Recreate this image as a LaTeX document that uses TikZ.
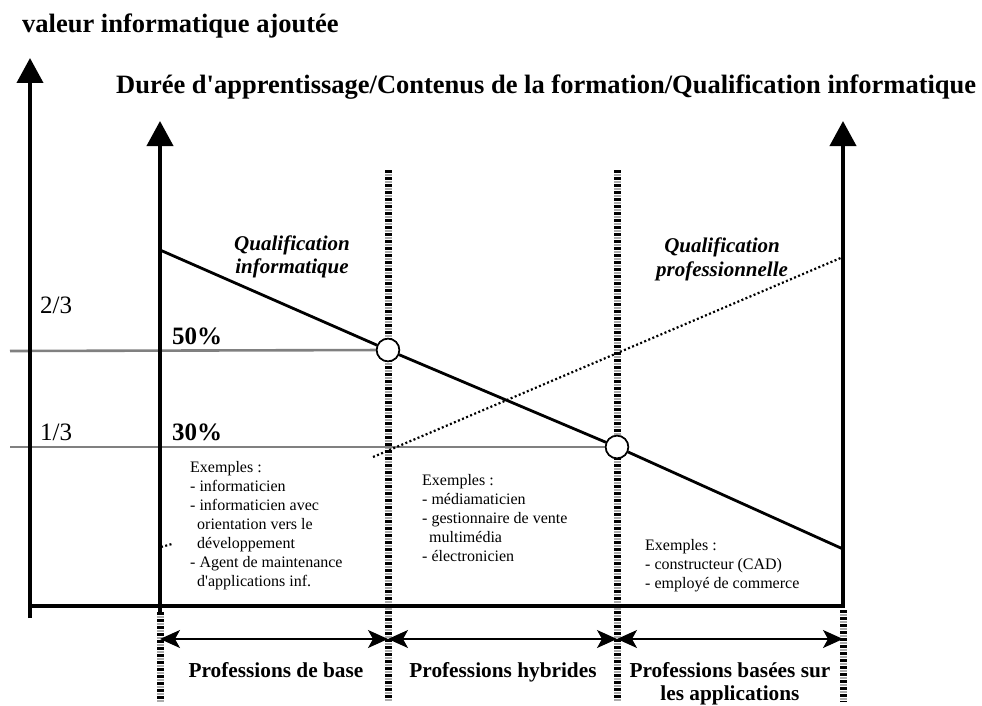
\documentclass[tikz,border=0pt]{standalone}
\usepackage{fontspec}
\setmainfont{Liberation Serif}
\usetikzlibrary{arrows.meta}
\begin{document}
\begin{tikzpicture}[x=1pt,y=-1pt,
  axisline/.style={line width=4pt},
  axisarrow/.style={line width=4pt,-{Triangle[length=25pt,width=26pt]}},
  stripebase/.style={line width=7pt,draw=gray!65,dash pattern=on 2.5pt off 1pt},
  stripetop/.style={line width=7pt,draw=black,dash pattern=on 2.5pt off 4.5pt},
  guide/.style={draw=gray,line width=2.6pt},
  qline/.style={line width=2.8pt},
  ring/.style={circle,draw,fill=white,line width=1.6pt,minimum size=22.6pt,inner sep=0pt},
  dots/.style={line width=2.2pt,dash pattern=on 2pt off 2.4pt},
  span/.style={line width=1.3pt,{Stealth[length=20pt,width=18pt,inset=5pt]}-{Stealth[length=20pt,width=18pt,inset=5pt]}},
  ex/.style={font=\fontsize{16}{19}\selectfont,align=left,anchor=north west,inner sep=0pt},
  bigbold/.style={font=\fontsize{26.5}{30}\selectfont\bfseries,inner sep=0pt,anchor=base west},
  frac/.style={font=\fontsize{25}{28}\selectfont,inner sep=0pt,anchor=base west},
  pct/.style={font=\fontsize{25}{28}\selectfont\bfseries,inner sep=0pt,anchor=base west},
  curvelabel/.style={font=\fontsize{21}{22.5}\selectfont\bfseries\itshape,align=center,inner sep=0pt,anchor=north},
  grouplabel/.style={font=\fontsize{21.3}{23}\selectfont\bfseries,align=center,inner sep=0pt}
]
\useasboundingbox (0,0) rectangle (982,706);

% coordinates
\coordinate (y1b) at (30,618);
\coordinate (y1t) at (30,58);
\coordinate (y2b) at (160,613);
\coordinate (y2t) at (160,121);
\coordinate (y3b) at (843,608);
\coordinate (y3t) at (843,121);
\coordinate (xl) at (28,606);
\coordinate (xr) at (845,606);

\coordinate (s1t) at (388,170); \coordinate (s1b) at (388,702);
\coordinate (s2t) at (617,170); \coordinate (s2b) at (617,702);
\coordinate (s0t) at (160,612); \coordinate (s0b) at (160,702);
\coordinate (s3t) at (843,610); \coordinate (s3b) at (843,702);

\coordinate (g1) at (10,351);
\coordinate (g2) at (10,447);
\coordinate (qa) at (160,250);
\coordinate (qb) at (843,549);
\coordinate (d1) at (373,457);
\coordinate (d2) at (843,257);
\coordinate (e1) at (161,547);
\coordinate (e2) at (172,544);

\coordinate (a0) at (160,639);
\coordinate (a1) at (388,639);
\coordinate (a2) at (617,639);
\coordinate (a3) at (843,639);

% striped column lines
\foreach \t/\b in {s1t/s1b,s2t/s2b,s0t/s0b,s3t/s3b}{
  \draw[stripebase] (\t) -- (\b);
  \draw[stripetop] (\t) -- (\b);
}

% circles
\node[ring] (c1) at (388,350) {};
\node[ring] (c2) at (617,447) {};

% gray guides
\draw[guide] (g1) -- (c1);
\draw[guide,line width=2pt] (g2) -- (c2);

% dotted professional qualification
\draw[dots] (d1) -- (d2);
\draw[dots] (e1) -- (e2);

% IT qualification line
\draw[qline] (qa) -- (c1) -- (c2) -- (qb);
\node[ring] at (c1) {};
\node[ring] at (c2) {};

% axes
\draw[axisline] (xl) -- (xr);
\draw[axisarrow] (y1b) -- (y1t);
\draw[axisarrow] (y2b) -- (y2t);
\draw[axisarrow] (y3b) -- (y3t);

% span arrows
\draw[span] (a0) -- (a1);
\draw[span] (a1) -- (a2);
\draw[span] (a2) -- (a3);

% texts
\node[bigbold] (t1) at (22,33) {valeur informatique ajoutée};
\node[bigbold] (t2) at (116,94) {Durée d\textquotesingle apprentissage/Contenus de la formation/Qualification informatique};

\node[frac] (f23) at (40,313) {2/3};
\node[frac] (f13) at (40,440) {1/3};
\node[pct] (p50) at (172,344) {50\%};
\node[pct] (p30) at (172,440) {30\%};

\node[curvelabel] (ql1) at (292,236) {Qualification\\informatique};
\node[curvelabel,font=\fontsize{21}{24}\selectfont\bfseries\itshape] (ql2) at (722,238) {Qualification\\professionnelle};

\node[ex] (ex1) at (190,461) {Exemples :\\- informaticien\\- informaticien avec\\\hspace*{7pt}orientation vers le\\\hspace*{7pt}développement\\- Agent de maintenance\\\hspace*{7pt}d\textquotesingle applications inf.};
\node[ex] (ex2) at (422,474) {Exemples :\\- médiamaticien\\- gestionnaire de vente\\\hspace*{7pt}multimédia\\- électronicien};
\node[ex] (ex3) at (645,539) {Exemples :\\- constructeur (CAD)\\- employé de commerce};

\node[grouplabel,anchor=base] (l1) at (276,677) {Professions de base};
\node[grouplabel,anchor=base] (l2) at (503,677) {Professions hybrides};
\node[grouplabel,anchor=north] (l3) at (730,662) {Professions basées sur\\les applications};
\end{tikzpicture}
\end{document}
